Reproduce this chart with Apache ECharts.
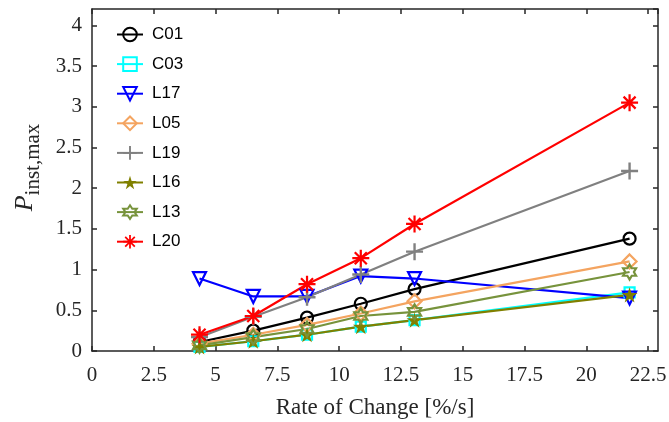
<!DOCTYPE html>
<html>
<head>
<meta charset="utf-8">
<script src="https://cdn.jsdelivr.net/npm/echarts@6/dist/echarts.min.js"></script>
<style>html,body{margin:0;padding:0;background:#fff}#c{width:669px;height:422px}</style>
</head>
<body>
<div id="c"></div>
<script>
var rates = [4.35, 6.525, 8.7, 10.875, 13.05, 21.75];
var seriesNames = ['C01', 'C03', 'L17', 'L05', 'L19', 'L16', 'L13', 'L20'];
var C01 = [0.11, 0.25, 0.41, 0.58, 0.76, 1.38];
var C03 = [0.05, 0.12, 0.20, 0.30, 0.38, 0.72];
var L17 = [0.89, 0.67, 0.67, 0.92, 0.89, 0.65];
var L05 = [0.09, 0.20, 0.32, 0.46, 0.61, 1.10];
var L19 = [0.17, 0.42, 0.66, 0.94, 1.22, 2.21];
var L16 = [0.05, 0.12, 0.20, 0.30, 0.38, 0.69];
var L13 = [0.07, 0.17, 0.27, 0.43, 0.48, 0.97];
var L20 = [0.20, 0.43, 0.82, 1.14, 1.56, 3.05];
var values = [C01, C03, L17, L05, L19, L16, L13, L20];

var colors = ['#000000', '#00FFFF', '#0000FF', '#F4A460', '#808080', '#808000', '#77933C', '#FF0000'];

var PENTA = 'path://M0,-10 L2.245,-3.09 L9.511,-3.09 L3.633,1.18 L5.878,8.09 L0,3.82 L-5.878,8.09 L-3.633,1.18 L-9.511,-3.09 L-2.245,-3.09 Z';
var HEXA = 'path://M0,-10 L2.887,-5 L8.66,-5 L5.774,0 L8.66,5 L2.887,5 L0,10 L-2.887,5 L-8.66,5 L-5.774,0 L-8.66,-5 L-2.887,-5 Z';
var PLUS = 'path://M-1.4,-10 L1.4,-10 L1.4,-1.4 L10,-1.4 L10,1.4 L1.4,1.4 L1.4,10 L-1.4,10 L-1.4,1.4 L-10,1.4 L-10,-1.4 L-1.4,-1.4 Z';
var ASTER = 'path://M-1.3,-10 L1.3,-10 L1.3,10 L-1.3,10 Z ' +
  'M-10,-1.3 L10,-1.3 L10,1.3 L-10,1.3 Z ' +
  'M-6.15,-7.99 L7.99,6.15 L6.15,7.99 L-7.99,-6.15 Z ' +
  'M7.99,-6.15 L-6.15,7.99 L-7.99,6.15 L6.15,-7.99 Z';

var symDefs = [
  {symbol: 'circle', size: 12, open: true},
  {symbol: 'rect', size: 10, open: true},
  {symbol: 'triangle', size: 13, open: true, rotate: 180},
  {symbol: 'diamond', size: 14, open: true},
  {symbol: PLUS, size: 17, open: false},
  {symbol: PENTA, size: 16, open: false},
  {symbol: HEXA, size: 15, open: true},
  {symbol: ASTER, size: 17, open: false}
];

var series = seriesNames.map(function (name, i) {
  var d = symDefs[i];
  return {
    name: name,
    type: 'line',
    data: rates.map(function (x, j) { return [x, values[i][j]]; }),
    symbol: d.symbol,
    symbolSize: d.size,
    symbolRotate: d.rotate || 0,
    symbolKeepAspect: true,
    showAllSymbol: true,
    lineStyle: {color: colors[i], width: 2.2},
    itemStyle: d.open ? {color: 'rgba(255,255,255,0)', borderColor: colors[i], borderWidth: 2.2}
                      : {color: colors[i], borderWidth: 0},
    emphasis: {disabled: true},
    animation: false
  };
});

var axisCol = '#262626';
var serif = '"Liberation Serif", "DejaVu Serif", serif';

function frameAxis(extra) {
  var base = {
    type: 'value',
    axisLine: {show: true, onZero: false, lineStyle: {color: axisCol, width: 1.5}},
    axisTick: {show: true, inside: true, length: 5, lineStyle: {color: axisCol, width: 1.5}},
    splitLine: {show: false}
  };
  for (var k in extra) base[k] = extra[k];
  return base;
}

var chart = echarts.init(document.getElementById('c'), null, {renderer: 'canvas'});
chart.setOption({
  animation: false,
  backgroundColor: '#fff',
  grid: {left: 92, right: 11, top: 9, bottom: 71, containLabel: false, outerBoundsMode: 'none'},
  legend: {
    orient: 'vertical', left: 116, top: 26, padding: 0,
    itemWidth: 26, itemHeight: 17, itemGap: 12.6,
    textStyle: {fontFamily: '"Liberation Sans", Arial, sans-serif', fontSize: 17, color: '#000', padding: [0, 0, 0, 4]},
    data: seriesNames
  },
  xAxis: [frameAxis({
    min: 0, max: 22.9, interval: 2.5, position: 'bottom',
    name: 'Rate of Change [%/s]', nameLocation: 'middle', nameGap: 45,
    nameTextStyle: {fontFamily: serif, fontSize: 23, color: axisCol},
    axisLabel: {fontFamily: serif, fontSize: 21, color: axisCol, margin: 14, showMaxLabel: false}
  }), frameAxis({
    min: 0, max: 22.9, interval: 2.5, position: 'top',
    axisLabel: {show: false}
  })],
  yAxis: [frameAxis({
    min: 0, max: 4.2, interval: 0.5, position: 'left',
    name: '{p|P}{s|inst,max}', nameLocation: 'middle', nameGap: 54, nameRotate: 90,
    nameTextStyle: {
      padding: [0, 0, 0, 25],
      rich: {
        p: {fontFamily: serif, fontStyle: 'italic', fontSize: 26, color: axisCol, verticalAlign: 'bottom', lineHeight: 28},
        s: {fontFamily: serif, fontSize: 21, color: axisCol, verticalAlign: 'bottom', lineHeight: 22, padding: [0, 0, -6, 0]}
      }
    },
    axisLabel: {fontFamily: serif, fontSize: 21, color: axisCol, margin: 10, showMaxLabel: false}
  }), frameAxis({
    min: 0, max: 4.2, interval: 0.5, position: 'right',
    axisLabel: {show: false}
  })],
  series: series
});
</script>
</body>
</html>
